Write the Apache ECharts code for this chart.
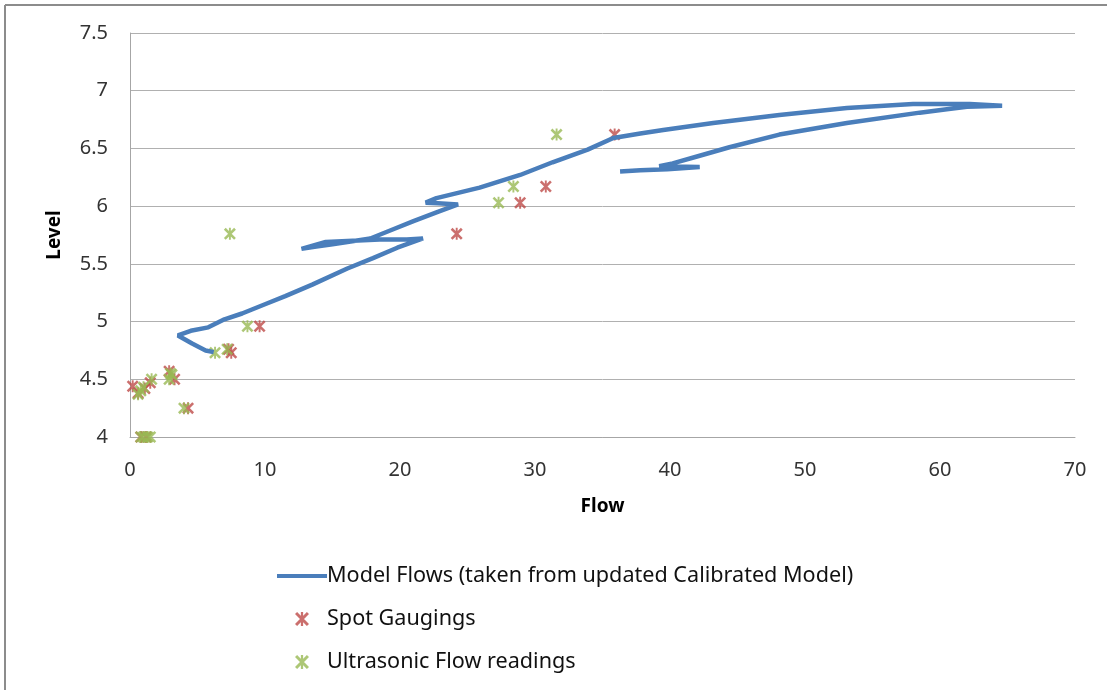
<!DOCTYPE html>
<html>
<head>
<meta charset="utf-8">
<script src="https://cdn.jsdelivr.net/npm/echarts@6/dist/echarts.min.js"></script>
<style>
  html, body { margin: 0; padding: 0; background: #fff; }
  #chart { width: 1107px; height: 690px; }
</style>
</head>
<body>
<div id="chart"></div>
<script>
// model curve (in drawing order)
var modelFlow = [6.2, 5.6, 4.6, 3.55, 4.5, 5.8, 7.0, 8.3, 10.0, 11.5, 13.5, 16.1, 18.0, 19.8, 21.7,
  20.5, 18.5, 16.5, 14.5, 12.7, 13.8, 15.0, 16.1, 17.8, 19.5, 21.0, 22.8, 24.3, 22.8, 21.9,
  22.7, 25.9, 28.9, 31.3, 33.9, 35.8, 37.8, 39.5, 43.2, 48.1, 53.1, 58.0, 62.2, 64.6,
  62.0, 60.5, 58.5, 53.1, 48.1, 44.4, 42.0, 40.2, 39.2, 42.2, 39.8, 37.8, 36.3];
var modelLevel = [4.735, 4.75, 4.81, 4.88, 4.92, 4.95, 5.02, 5.07, 5.15, 5.22, 5.32, 5.46, 5.55, 5.64, 5.72,
  5.71, 5.71, 5.70, 5.69, 5.63, 5.65, 5.67, 5.69, 5.72, 5.80, 5.87, 5.95, 6.015, 6.025, 6.03,
  6.07, 6.16, 6.27, 6.38, 6.49, 6.59, 6.63, 6.66, 6.72, 6.79, 6.85, 6.885, 6.885, 6.87,
  6.86, 6.84, 6.81, 6.72, 6.62, 6.51, 6.43, 6.37, 6.345, 6.34, 6.32, 6.31, 6.30];

var spotFlow = [35.9, 30.8, 28.9, 24.2, 9.6, 7.5, 7.3, 4.3, 3.3, 2.9, 1.5, 1.1, 0.2, 0.6, 1.2, 0.8];
var spotLevel = [6.62, 6.17, 6.03, 5.76, 4.96, 4.73, 4.76, 4.25, 4.50, 4.57, 4.47, 4.42, 4.44, 4.38, 4.0, 4.0];

var ultraFlow = [31.6, 28.4, 27.3, 7.4, 8.7, 7.2, 6.3, 4.0, 3.1, 3.0, 2.9, 1.6, 1.0, 0.8, 0.6, 0.8, 1.0, 1.3, 1.5];
var ultraLevel = [6.62, 6.17, 6.03, 5.76, 4.96, 4.76, 4.73, 4.25, 4.54, 4.55, 4.50, 4.50, 4.43, 4.40, 4.37, 4.0, 4.0, 4.0, 4.0];

var xTicks = { min: 0, max: 70, interval: 10 };
var yTicks = { min: 4, max: 7.5, interval: 0.5 };

function pairs(xs, ys) {
  return xs.map(function (x, i) { return [x, ys[i]]; });
}

// excel-ish star marker: two diagonal bars + a vertical bar, all same winding
var star = 'path://M1.5,0 L10,8.5 L8.5,10 L0,1.5 Z M8.5,0 L10,1.5 L1.5,10 L0,8.5 Z M4.2,0 L5.8,0 L5.8,10 L4.2,10 Z';
var font = 'Noto Sans';

var chart = echarts.init(document.getElementById('chart'));
var option = {
  animation: false,
  textStyle: { fontFamily: font },
  grid: { left: 130, right: 32, top: 33, bottom: 253 },
  xAxis: {
    type: 'value', min: xTicks.min, max: xTicks.max, interval: xTicks.interval,
    name: 'Flow', nameLocation: 'middle', nameGap: 60,
    nameTextStyle: { fontWeight: 'bold', fontSize: 19, color: '#000', fontFamily: font },
    axisLine: { lineStyle: { color: '#a6a6a6', width: 1 } },
    axisTick: { show: false },
    splitLine: { show: false },
    axisLabel: { fontSize: 20, color: '#333', margin: 23, fontFamily: font }
  },
  yAxis: {
    type: 'value', min: yTicks.min, max: yTicks.max, interval: yTicks.interval,
    name: 'Level', nameLocation: 'middle', nameGap: 66,
    nameTextStyle: { fontWeight: 'bold', fontSize: 19, color: '#000', fontFamily: font },
    axisLine: { show: true, lineStyle: { color: '#a6a6a6', width: 1 } },
    axisTick: { show: false },
    splitLine: { lineStyle: { color: '#b0b0b0', width: 1 } },
    axisLabel: { fontSize: 20, color: '#333', margin: 22, fontFamily: font }
  },
  legend: {
    orient: 'vertical', left: 272, top: 559,
    itemWidth: 50, itemHeight: 14, itemGap: 19,
    textStyle: { fontSize: 21.6, color: '#111', fontFamily: font, lineHeight: 24, padding: [0, 0, 0, -5] },
    data: [
      { name: 'Model Flows (taken from updated Calibrated Model)', icon: 'path://M0,0 L50,0 L50,4 L0,4 Z' },
      { name: 'Spot Gaugings', icon: star },
      { name: 'Ultrasonic Flow readings', icon: star }
    ]
  },
  graphic: [
    { type: 'line', shape: { x1: 5, y1: 5, x2: 1107, y2: 5 }, style: { stroke: '#8c8c8c', lineWidth: 2 } },
    { type: 'line', shape: { x1: 5, y1: 5, x2: 5, y2: 690 }, style: { stroke: '#8c8c8c', lineWidth: 2 } }
  ],
  series: [
    {
      name: 'Model Flows (taken from updated Calibrated Model)',
      type: 'line', data: pairs(modelFlow, modelLevel),
      showSymbol: false, symbol: 'none',
      lineStyle: { color: '#4a7ebb', width: 4.5 },
      itemStyle: { color: '#4a7ebb' }
    },
    {
      name: 'Spot Gaugings', type: 'scatter', data: pairs(spotFlow, spotLevel),
      symbol: star, symbolSize: 12, clip: false,
      itemStyle: { color: '#be4b48', borderWidth: 0 }
    },
    {
      name: 'Ultrasonic Flow readings', type: 'scatter', data: pairs(ultraFlow, ultraLevel),
      symbol: star, symbolSize: 12, clip: false,
      itemStyle: { color: '#98b954', borderWidth: 0 }
    }
  ]
};
chart.setOption(option);
</script>
</body>
</html>
